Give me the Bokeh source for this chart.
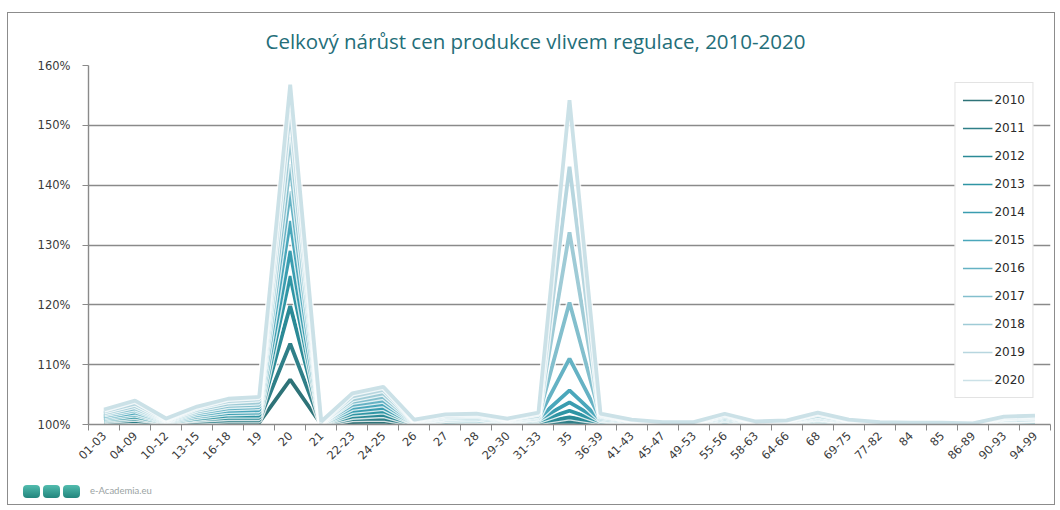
import math
from bokeh.plotting import figure
from bokeh.layouts import column
from bokeh.models import (FixedTicker, CustomJSTickFormatter, PrintfTickFormatter,
                          Legend, LegendItem, Range1d, Title, Div)
from bokeh.embed import file_html
from bokeh.resources import INLINE

categories = ["01-03", "04-09", "10-12", "13-15", "16-18", "19", "20", "21", "22-23", "24-25",
              "26", "27", "28", "29-30", "31-33", "35", "36-39", "41-43", "45-47", "49-53",
              "55-56", "58-63", "64-66", "68", "69-75", "77-82", "84", "85", "86-89", "90-93", "94-99"]
years = ["2010", "2011", "2012", "2013", "2014", "2015", "2016", "2017", "2018", "2019", "2020"]

s2010 = [100.2, 100.3, 100.1, 100.2, 100.3, 100.3, 107.5, 100.0, 100.4, 100.5, 100.0, 100.1, 100.1, 100.1, 100.1, 100.2,
         100.1, 100.1, 100.0, 100.0, 100.1, 100.0, 100.0, 100.1, 100.1, 100.0, 100.0, 100.0, 100.0, 100.1, 100.1]
s2011 = [100.4, 100.6, 100.2, 100.5, 100.7, 100.7, 113.5, 100.0, 100.9, 101.0, 100.1, 100.2, 100.3, 100.2, 100.3, 100.5,
         100.2, 100.1, 100.0, 100.0, 100.2, 100.1, 100.1, 100.3, 100.1, 100.0, 100.0, 100.0, 100.0, 100.2, 100.2]
s2012 = [100.6, 101.0, 100.3, 100.8, 101.1, 101.1, 119.8, 100.1, 101.3, 101.6, 100.1, 100.4, 100.4, 100.3, 100.4, 101.2,
         100.4, 100.2, 100.1, 100.1, 100.4, 100.1, 100.1, 100.4, 100.2, 100.1, 100.0, 100.0, 100.0, 100.3, 100.3]
s2013 = [100.8, 101.3, 100.3, 101.0, 101.5, 101.5, 124.8, 100.1, 101.8, 102.2, 100.2, 100.5, 100.6, 100.3, 100.6, 102.3,
         100.5, 100.2, 100.1, 100.1, 100.5, 100.1, 100.2, 100.6, 100.2, 100.1, 100.1, 100.1, 100.0, 100.4, 100.4]
s2014 = [101.0, 101.7, 100.4, 101.3, 101.9, 102.0, 129.0, 100.1, 102.3, 102.8, 100.2, 100.7, 100.7, 100.4, 100.8, 103.7,
         100.7, 100.3, 100.1, 100.1, 100.7, 100.2, 100.2, 100.8, 100.3, 100.1, 100.1, 100.1, 100.1, 100.5, 100.5]
s2015 = [101.2, 102.0, 100.5, 101.6, 102.3, 102.4, 134.0, 100.2, 102.8, 103.4, 100.3, 100.8, 100.9, 100.5, 101.0, 105.7,
         100.8, 100.4, 100.2, 100.2, 100.8, 100.2, 100.3, 101.0, 100.4, 100.2, 100.1, 100.1, 100.1, 100.6, 100.7]
s2016 = [101.4, 102.4, 100.6, 101.9, 102.7, 102.9, 139.0, 100.2, 103.3, 104.0, 100.4, 101.0, 101.0, 100.6, 101.1, 111.0,
         101.0, 100.4, 100.2, 100.2, 101.0, 100.3, 100.4, 101.1, 100.4, 100.2, 100.1, 100.1, 100.1, 100.7, 100.8]
s2017 = [101.7, 102.7, 100.7, 102.2, 103.1, 103.3, 143.5, 100.3, 103.8, 104.6, 100.5, 101.1, 101.2, 100.7, 101.3, 120.4,
         101.2, 100.5, 100.2, 100.2, 101.2, 100.3, 100.4, 101.3, 100.5, 100.2, 100.2, 100.2, 100.1, 100.8, 100.9]
s2018 = [101.9, 103.1, 100.8, 102.5, 103.5, 103.7, 148.0, 100.3, 104.2, 105.2, 100.6, 101.3, 101.4, 100.8, 101.5, 132.1,
         101.4, 100.6, 100.3, 100.3, 101.4, 100.4, 100.5, 101.5, 100.6, 100.3, 100.2, 100.2, 100.1, 101.0, 101.1]
s2019 = [102.2, 103.5, 100.9, 102.8, 103.9, 104.2, 152.5, 100.4, 104.7, 105.8, 100.7, 101.5, 101.6, 100.9, 101.8, 143.1,
         101.6, 100.7, 100.3, 100.3, 101.6, 100.4, 100.6, 101.8, 100.7, 100.3, 100.2, 100.2, 100.2, 101.1, 101.3]
s2020 = [102.5, 104.0, 101.0, 103.0, 104.3, 104.6, 156.8, 100.5, 105.2, 106.3, 100.8, 101.7, 101.8, 101.0, 102.0, 154.2,
         101.8, 100.8, 100.4, 100.4, 101.8, 100.5, 100.7, 102.0, 100.8, 100.4, 100.3, 100.3, 100.2, 101.3, 101.5]

series = [s2010, s2011, s2012, s2013, s2014, s2015, s2016, s2017, s2018, s2019, s2020]
colors = ["#2e7378", "#2f7f88", "#2b8a96", "#2f95a4", "#3a9db0", "#4aa7bb",
          "#65b2c4", "#83bfcd", "#9fcbd6", "#b7d6df", "#cbe1e7"]

title_text = "Celkový nárůst cen produkce vlivem regulace, 2010-2020"
logo_text = "e-Academia.eu"

n = len(categories)
xs = [i + 0.5 for i in range(n)]

p = figure(width=1046, height=465, output_backend="svg", toolbar_location=None,
           x_range=Range1d(0, n), y_range=Range1d(100, 160),
           min_border_left=80, min_border_right=4, min_border_top=52, min_border_bottom=54,
           background_fill_color="white", border_fill_color="white")
p.outline_line_color = None

p.xgrid.visible = False
p.ygrid.grid_line_color = "#8a8a8a"
p.ygrid.grid_line_width = 1.4
p.yaxis.ticker = FixedTicker(ticks=[100, 110, 120, 130, 140, 150, 160])
p.yaxis.formatter = PrintfTickFormatter(format="%d%%")
p.yaxis.axis_line_color = "#8a8a8a"
p.yaxis.axis_line_width = 1.4
p.yaxis.major_tick_line_color = "#8a8a8a"
p.yaxis.major_tick_out = 6
p.yaxis.major_tick_in = 0
p.yaxis.minor_tick_line_color = None
p.yaxis.major_label_text_font = "DejaVu Sans"
p.yaxis.major_label_text_font_size = "11.5px"
p.yaxis.major_label_text_color = "#3a3a3a"
p.yaxis.major_label_standoff = 12

p.xaxis.ticker = FixedTicker(ticks=xs, minor_ticks=list(range(n + 1)))
p.xaxis.formatter = CustomJSTickFormatter(args=dict(labels=categories),
                                          code="return labels[Math.floor(tick)] || '';")
p.xaxis.major_label_orientation = math.pi / 4
p.xaxis.axis_line_color = "#8a8a8a"
p.xaxis.axis_line_width = 1.4
p.xaxis.major_tick_line_color = None
p.xaxis.major_tick_out = 6
p.xaxis.minor_tick_line_color = "#8a8a8a"
p.xaxis.minor_tick_out = 6
p.xaxis.minor_tick_in = 0
p.xaxis.major_label_text_font = "DejaVu Sans"
p.xaxis.major_label_text_font_size = "11.5px"
p.xaxis.major_label_text_color = "#3a3a3a"
p.xaxis.major_label_standoff = 3

items = []
for yr, vals, col in zip(years, series, colors):
    p.line(xs, vals, line_color="white", line_width=6.5, line_alpha=0.8)
    p.line(xs, vals, line_color=col, line_width=3.8)
    proxy = p.line([float("nan")], [float("nan")], line_color=col, line_width=1.6)
    items.append(LegendItem(label=yr, renderers=[proxy]))

legend = Legend(items=items, location="top_right", margin=17,
                border_line_color="#c8c8c8", border_line_width=1,
                background_fill_color="white", background_fill_alpha=1,
                padding=7, spacing=8, glyph_width=30, glyph_height=20,
                label_height=20, label_standoff=2,
                label_text_font="DejaVu Sans", label_text_font_size="12px",
                label_text_color="#2a2a2a")
p.add_layout(legend, "center")

p.add_layout(Title(text=title_text, align="left", offset=177, standoff=21,
                   text_font="Open Sans", text_font_size="20.5px", text_font_style="normal",
                   text_color="#246e79"), "above")

sq = ("display:inline-block;width:17px;height:13px;border-radius:4px;margin-right:3px;"
      "background:linear-gradient(#52bcae,#22857d);")
logo_html = (
    '<div style="display:flex;align-items:center;height:26px;padding-left:15px;">'
    + ('<span style="%s"></span>' % sq) * 3
    + '<span style="margin-left:7px;font-family:Lato, sans-serif;font-size:9.5px;color:#9aa3a3;">'
    + logo_text + '</span></div>'
)
lg = Div(text=logo_html, width=1046, height=26, margin=0)

layout = column(p, lg, spacing=0, margin=(12, 0, 0, 7),
                styles={"border": "1px solid #8c8c8c"})

open("out.html", "w").write(file_html(layout, INLINE))
